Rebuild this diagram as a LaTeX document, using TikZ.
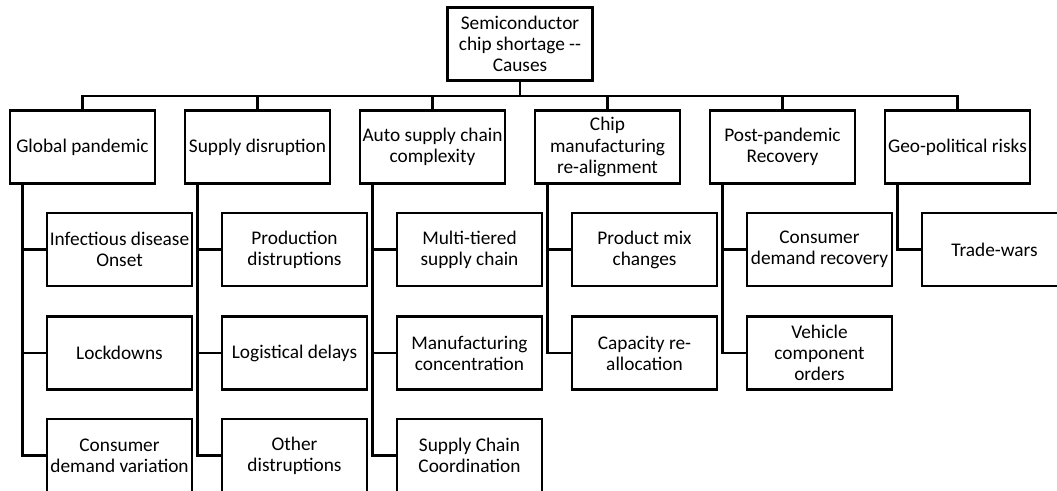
\documentclass[tikz,border=0pt]{standalone}
\usepackage{fontspec}
\setmainfont{Carlito}
\usepackage{tikz}

\begin{document}
\begin{tikzpicture}[x = 0.02cm, y = -0.02cm, line width = 1.5pt, every node/.style={draw, rectangle, minimum width = 2.9cm, minimum height = 1.46cm, align = center, inner sep = 1pt, font = \fontsize{11}{12}\selectfont}]
	
	\useasboundingbox (0,0) rectangle (1057,490);
	
	\node (root) at (520,44) {Semiconductor\\chip shortage -{}-\\Causes};
	\coordinate (bar) at (520,96);
	
	\node (pandemic) at (82.5,147) {Global pandemic};
	\node (supply) at (257.5,147) {Supply disruption};
	\node (auto) at (432.5,147) {Auto supply chain\\complexity};
	\node (chip) at (607.5,147) {Chip\\manufacturing\\re-alignment};
	\node (recovery) at (782.5,147) {Post-pandemic\\Recovery};
	\node (geo) at (957.5,147) {Geo-political risks};
	
	\node (pandemic-1) at (119.5,249.5) {Infectious disease\\Onset};
	\node (pandemic-2) at (119.5,353) {Lockdowns};
	\node (pandemic-3) at (119.5,455.5) {Consumer\\demand variation};
	
	\node (supply-1) at (294.5,249.5) {Production\\distruptions};
	\node (supply-2) at (294.5,353) {Logistical delays};
	\node (supply-3) at (294.5,455.5) {Other\\distruptions};
	
	\node (auto-1) at (469.5,249.5) {Multi-tiered\\supply chain};
	\node (auto-2) at (469.5,353) {Manufacturing\\concentration};
	\node (auto-3) at (469.5,455.5) {Supply Chain\\Coordination};
	
	\node (chip-1) at (644.5,249.5) {Product mix\\changes};
	\node (chip-2) at (644.5,353) {Capacity re-\\allocation};
	
	\node (recovery-1) at (819.5,249.5) {Consumer\\demand recovery};
	\node (recovery-2) at (819.5,353) {Vehicle\\component\\orders};
	
	\node (geo-1) at (994.5,249.5) {Trade-wars};
	
	\draw (root.south) -- (bar);
	\foreach \c in {pandemic, supply, auto, chip, recovery, geo}
		\draw (\c.north) |- (bar);
	
	\foreach \c/\n in {pandemic/3, supply/3, auto/3, chip/2, recovery/2, geo/1}
		\foreach \i in {1,...,\n}
			\draw ([xshift = 0.28cm]\c.south west) |- (\c-\i.west);
	
\end{tikzpicture}
\end{document}
